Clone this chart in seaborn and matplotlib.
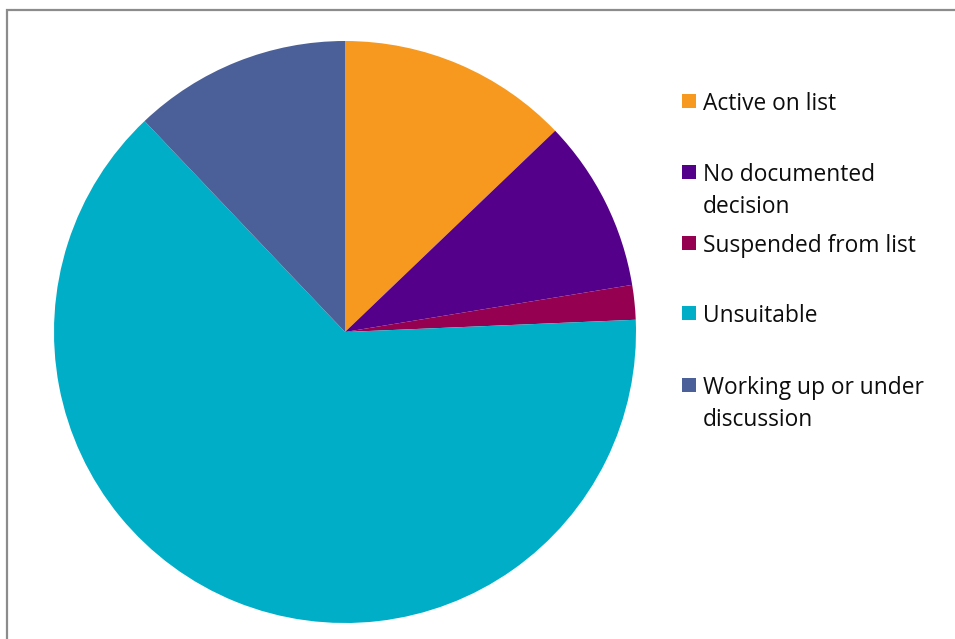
import matplotlib
matplotlib.use("Agg")
import matplotlib.pyplot as plt
import matplotlib.patches as mpatches
import seaborn as sns

# 各状态所占比例（从图中估计）
categories = ['Active on list', 'No documented\ndecision', 'Suspended from list',
              'Unsuitable', 'Working up or under\ndiscussion']
shares = [12.85, 9.57, 1.92, 63.6, 12.1]
colors = ['#F7991F', '#55008A', '#950050', '#00AEC8', '#4B6098']

sns.set_theme(style="white")
plt.rcParams['font.family'] = ['Open Sans', 'DejaVu Sans']

W, H = 955, 639
fig = plt.figure(figsize=(W / 100, H / 100), dpi=100)

# 外框
fig.patches.append(mpatches.Rectangle((6.5 / W, -0.1), 1.2, 1 - 9.5 / H + 0.1,
                                      transform=fig.transFigure, fill=False,
                                      edgecolor='#8C8C8C', linewidth=1.6))

cx, cy, r = 345, 332, 291
ax = fig.add_axes([(cx - r) / W, (H - cy - r) / H, 2 * r / W, 2 * r / H])
ax.pie(shares, colors=colors, startangle=90, counterclock=False,
       wedgeprops=dict(linewidth=0))
ax.set_xlim(-1, 1)
ax.set_ylim(-1, 1)
ax.set_axis_off()

# 图例（手工排版）
legend_y = [101, 172, 243, 313, 385]
line_gap = 32
for lab, col, y in zip(categories, colors, legend_y):
    fig.patches.append(mpatches.Rectangle((682 / W, 1 - (y + 7) / H), 14 / W, 14 / H,
                                          transform=fig.transFigure,
                                          facecolor=col, edgecolor='none'))
    for i, line in enumerate(lab.split('\n')):
        fig.text(703 / W, 1 - (y + i * line_gap) / H, line, fontsize=16.4, color='#0d0d0d',
                 va='center_baseline', ha='left')

plt.savefig('out.png', dpi=100)
